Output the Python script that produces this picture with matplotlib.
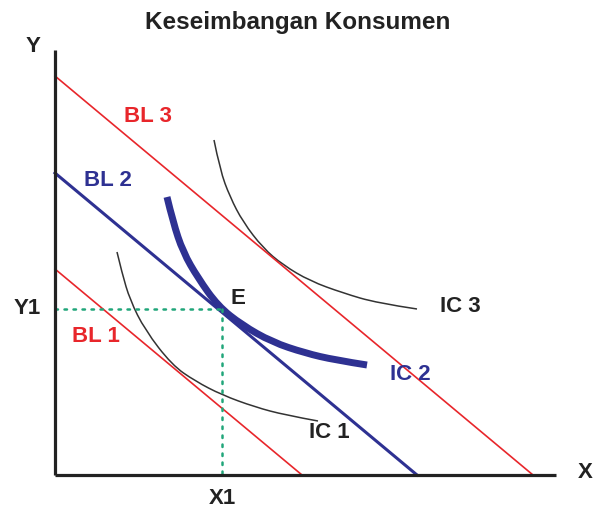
import numpy as np
import matplotlib.pyplot as plt
from matplotlib.path import Path
from matplotlib.patches import PathPatch

plt.rcParams['font.family'] = ['Liberation Sans', 'DejaVu Sans']

# budget lines: (y intercept, x intercept)
bl1 = [206, 247]
bl2 = [302, 362]
bl3 = [399, 478]

# indifference curves (x, y)
ic1_x = [62, 67, 75, 90, 117, 140, 167, 200, 230, 263]
ic1_y = [223, 202, 175, 145, 110, 94, 80, 68, 60, 54]
ic2_x = [112, 118, 128, 143, 163, 187, 217, 250, 280, 312]
ic2_y = [278, 253, 223, 197, 169, 150, 133, 122, 115, 110]
ic3_x = [159, 165, 175, 188, 208, 228, 255, 288, 322, 362]
ic3_y = [335, 305, 278, 253, 227, 210, 194, 182, 172, 166]

# equilibrium
x1, y1 = 167, 166

red = '#e8262b'
navy = '#2e3192'
dark = '#222222'
green = '#21a67a'


def smooth_curve(ax, xs, ys, **kw):
    # quadratic bezier through midpoints, read points act as control points
    pts = np.column_stack([xs, ys]).astype(float)
    verts = [pts[0]]
    codes = [Path.MOVETO]
    for i in range(1, len(pts) - 2):
        verts += [pts[i], (pts[i] + pts[i + 1]) / 2]
        codes += [Path.CURVE3, Path.CURVE3]
    verts += [pts[-2], pts[-1]]
    codes += [Path.CURVE3, Path.CURVE3]
    ax.add_patch(PathPatch(Path(verts, codes), fill=False, **kw))


fig = plt.figure(figsize=(5.94, 5.08), dpi=100)
ax = fig.add_axes([0, 0, 1, 1])
ax.set_xlim(-55, 539)
ax.set_ylim(-33, 475)
ax.axis('off')

# axes
ax.plot([0, 0], [0, 425], color=dark, lw=2.3, solid_capstyle='butt', zorder=5)
ax.plot([0, 501], [0, 0], color=dark, lw=2.3, solid_capstyle='butt', zorder=5)

# budget lines
ax.plot([0, bl1[1]], [bl1[0], 0], color=red, lw=1.2)
ax.plot([0, bl2[1]], [bl2[0], 0], color=navy, lw=2.2)
ax.plot([0, bl3[1]], [bl3[0], 0], color=red, lw=1.2)

# indifference curves
smooth_curve(ax, ic1_x, ic1_y, edgecolor='#333333', lw=1.1)
smooth_curve(ax, ic2_x, ic2_y, edgecolor=navy, lw=5, capstyle='butt')
smooth_curve(ax, ic3_x, ic3_y, edgecolor='#333333', lw=1.1)

# dotted guides
ax.plot([0, x1], [y1, y1], color=green, lw=1.8, ls=(0, (1, 2.6)), dash_capstyle='round')
ax.plot([x1, x1], [y1, 0], color=green, lw=1.8, ls=(0, (1, 2.6)), dash_capstyle='round')

fs = 16
kw = dict(ha='center', va='center', fontweight='bold', fontsize=fs)
ax.text(243, 453, 'Keseimbangan Konsumen', color=dark, **{**kw, 'fontsize': 17.5})
ax.text(-22, 428, 'Y', color=dark, **kw)
ax.text(530, 3, 'X', color=dark, **kw)
ax.text(93, 359, 'BL 3', color=red, **kw)
ax.text(53, 295, 'BL 2', color=navy, **kw)
ax.text(41, 138, 'BL 1', color=red, **kw)
ax.text(-28, y1, 'Y1', color=dark, **kw)
ax.text(x1, -23, 'X1', color=dark, **kw)
ax.text(183, 176, 'E', color=dark, **kw)
ax.text(405, 169, 'IC 3', color=dark, **kw)
ax.text(355, 100, 'IC 2', color=navy, **kw)
ax.text(274, 42, 'IC 1', color=dark, **kw)

plt.savefig('out.png', dpi=100)
